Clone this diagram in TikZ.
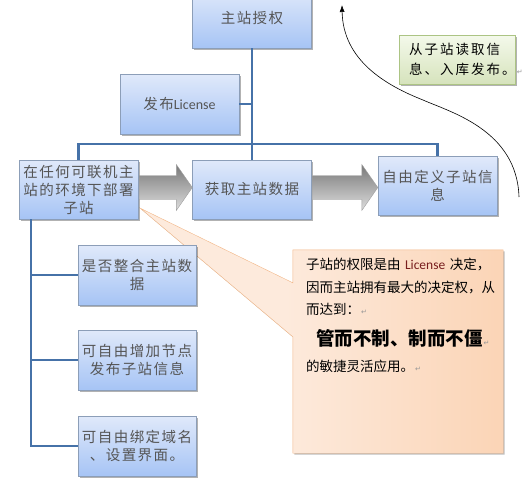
\documentclass[tikz,border=0pt]{standalone}
\usepackage{fontspec}
\usepackage{tikz}
\usetikzlibrary{arrows.meta,positioning,shadows,backgrounds,calc}
\newfontfamily\cjk[LetterSpace=10]{Noto Sans CJK SC}
\newfontfamily\cjknote{Noto Sans CJK SC}
\newfontfamily\cjkwide[LetterSpace=15]{Noto Sans CJK SC}
\newfontfamily\lat{Carlito}
\newfontfamily\sym{DejaVu Sans}
\definecolor{boxtop}{RGB}{224,233,250}
\definecolor{boxbot}{RGB}{166,196,245}
\definecolor{boxline}{RGB}{140,158,184}
\definecolor{boxtext}{RGB}{85,85,85}
\definecolor{linkblue}{RGB}{70,114,168}
\definecolor{arrowdark}{RGB}{120,120,120}
\definecolor{arrowlight}{RGB}{222,222,222}
\definecolor{notelight}{RGB}{253,234,220}
\definecolor{notedark}{RGB}{249,194,150}
\definecolor{noteline}{RGB}{242,182,134}
\definecolor{greentop}{RGB}{244,249,235}
\definecolor{greenbot}{RGB}{214,227,188}
\definecolor{greenline}{RGB}{172,196,132}
\definecolor{licred}{RGB}{120,30,30}
\definecolor{markgray}{RGB}{150,150,150}
\pgfdeclarehorizontalshading{notegrad}{100bp}{color(0bp)=(notelight); color(45bp)=(notelight); color(100bp)=(notedark)}
\newcommand{\retmark}{{\sym\fontsize{7}{7}\selectfont\color{markgray}\,↵}}
\tikzset{
    every node/.style={font=\cjk\fontsize{14.5}{18}\selectfont},
    sitebox/.style={draw=boxline, top color=boxtop, bottom color=boxbot,
        minimum width=119pt, minimum height=59pt, text width=115pt,
        align=center, inner sep=0pt, text=boxtext,
        drop shadow={shadow xshift=1.5pt, shadow yshift=-1.5pt, fill=black, opacity=.3}},
    link/.style={draw=linkblue, line width=2.6pt},
    flow/.style={draw=gray!75, top color=arrowdark, bottom color=arrowlight, line width=.4pt},
    notefill/.style={draw=noteline, shading=notegrad,
        drop shadow={shadow xshift=1.5pt, shadow yshift=-1.5pt, fill=black, opacity=.25}},
    notetext/.style={text width=195pt, align=left, inner sep=0pt,
        font=\cjknote\fontsize{13.5}{22.5}\selectfont},
    hintbox/.style={draw=greenline, top color=greentop, bottom color=greenbot,
        minimum width=116pt, minimum height=49pt, text width=96pt, align=left,
        inner sep=0pt, font=\cjkwide\fontsize{13.5}{20}\selectfont,
        drop shadow={shadow xshift=1.5pt, shadow yshift=-1.5pt, fill=black, opacity=.3}},
}

\begin{document}
\begin{tikzpicture}[x=1pt, y=-1pt]
    \useasboundingbox (0,0) rectangle (527,485);
    \clip (0,0) rectangle (527,485);

    \node[sitebox] (auth) at (252,18.5) {主站授权};
    \node[sitebox, minimum height=60pt] (lic) at (179.5,104) {发布{\lat\fontsize{14}{18}\selectfont License}};
    \node[sitebox] (deploy) at (78.5,189.5) {在任何可联机主\\站的环境下部署\\子站};
    \node[sitebox] (fetch) at (252,189.5) {获取主站数据};
    \node[sitebox] (custom) at (437.5,186) {自由定义子站信\\息};
    \node[sitebox, minimum width=118pt, minimum height=60pt] (merge) at (137,275) {是否整合主站数\\据};
    \node[sitebox, minimum width=118pt, minimum height=60pt] (addnode) at (137,360) {可自由增加节点\\发布子站信息};
    \node[sitebox, minimum width=118pt, minimum height=60pt] (bind) at (137,446) {可自由绑定域名\\、设置界面。};

    % tree lines
    \coordinate (bar) at (252,144);
    \draw[link] (auth.south) -- (fetch.north);
    \draw[link] (lic.east) -- (lic.east -| auth.south);
    \draw[link] (deploy.north) |- (bar) -| (custom.north);
    \coordinate (spine) at ([xshift=12pt]deploy.south west);
    \foreach \leaf in {merge,addnode,bind}
        \draw[link] (spine) |- (\leaf.west);

    % grey block arrows
    \foreach \from/\to in {deploy/fetch,fetch/custom}
        \shade[flow] let \p1=(\from.east), \p2=(\to.west) in
            (\x1+1pt,\y1+14pt) -- (\x2-16pt,\y1+14pt) -- (\x2-16pt,\y1+25pt) -- (\x2,\y1+2pt)
            -- (\x2-16pt,\y1-21pt) -- (\x2-16pt,\y1-10pt) -- (\x1+1pt,\y1-10pt) -- cycle;

    % callout
    \node[minimum width=210pt, minimum height=203pt, inner sep=0pt] (note) at (398,351.5) {};
    \coordinate (tip) at ([shift={(2pt,11pt)}]deploy.south east);
    \begin{scope}[on background layer]
    \shade[notefill] (note.north west) -- ([yshift=-33pt]note.north west) -- (tip)
        -- ([yshift=-87pt]note.north west) -- (note.south west) -- (note.south east)
        -- (note.north east) -- cycle;
    \end{scope}
    \node[notetext, anchor=north west] (notetxt) at ([shift={(13pt,-8.5pt)}]note.north west)
        {子站的权限是由 {\lat\color{licred}License} 决定，\\
         因而主站拥有最大的决定权，从\\
         而达到：\retmark\\[8.5pt]
         \hspace*{10pt}{\fontsize{18.5}{22}\selectfont\bfseries 管而不制、制而不僵}\retmark\\[3.5pt]
         的敏捷灵活应用。\retmark};

    % read back
    \node[hintbox] (hint) at (457,59.5) {从子站读取信\\息、入库发布。\retmark};
    \coordinate (readfrom) at (519,197);
    \coordinate (readbend) at (423,100);
    \coordinate (readto) at (342,5);
    \draw[-{Latex[length=7pt,width=5pt]}, line width=.6pt] (readfrom)
        .. controls (517,130) and (450,112) .. (readbend)
        .. controls (385,85) and (343,60) .. (readto);
\end{tikzpicture}
\end{document}
